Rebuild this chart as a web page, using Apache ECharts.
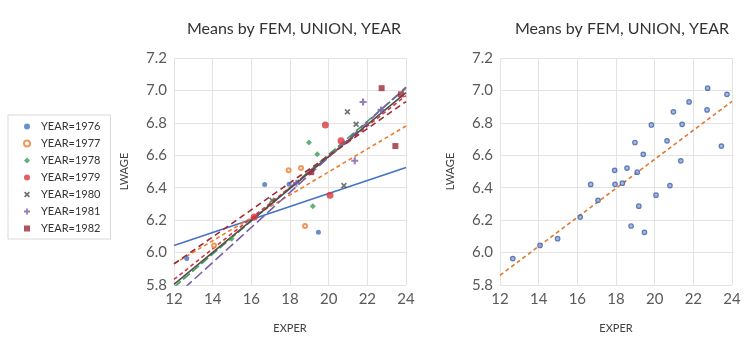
<!DOCTYPE html>
<html><head><meta charset="utf-8">
<script src="https://cdn.jsdelivr.net/npm/echarts@6/dist/echarts.min.js"></script>
<style>html,body{margin:0;padding:0;background:#fff}#c{width:750px;height:345px}</style>
</head><body><div id="c"></div><script>
const titleText = 'Means by FEM, UNION, YEAR';
const xTicks = [12, 14, 16, 18, 20, 22, 24];
const yTicks = [5.8, 6.0, 6.2, 6.4, 6.6, 6.8, 7.0, 7.2];
const years = ['YEAR=1976','YEAR=1977','YEAR=1978','YEAR=1979','YEAR=1980','YEAR=1981','YEAR=1982'];
const exper1976 = [12.66, 16.69, 19.47, 17.95];
const lwage1976 = [5.963, 6.420, 6.125, 6.421];
const exper1977 = [14.07, 17.93, 18.78, 18.57];
const lwage1977 = [6.044, 6.507, 6.164, 6.521];
const exper1978 = [14.98, 18.98, 19.18, 19.41];
const lwage1978 = [6.086, 6.679, 6.286, 6.606];
const exper1979 = [16.15, 19.83, 20.07, 20.64];
const lwage1979 = [6.219, 6.787, 6.354, 6.689];
const exper1980 = [17.07, 20.97, 20.79, 21.42];
const lwage1980 = [6.322, 6.868, 6.413, 6.791];
const exper1981 = [18.33, 21.78, 21.35, 22.71];
const lwage1981 = [6.428, 6.929, 6.566, 6.880];
const exper1982 = [19.10, 22.74, 23.45, 23.74];
const lwage1982 = [6.496, 7.014, 6.657, 6.976];

const experAll = [exper1976, exper1977, exper1978, exper1979, exper1980, exper1981, exper1982];
const lwageAll = [lwage1976, lwage1977, lwage1978, lwage1979, lwage1980, lwage1981, lwage1982];

const colors = ['#4472C4', '#ED7D31', '#3F9B57', '#D9363E', '#4D4D4D', '#7B5EA7', '#9E2A35'];
const symbols = ['circle', 'emptyCircle', 'diamond', 'circle',
  'path://M2,0 L5,3 L8,0 L10,2 L7,5 L10,8 L8,10 L5,7 L2,10 L0,8 L3,5 L0,2 Z',
  'path://M3.5,0 H6.5 V3.5 H10 V6.5 H6.5 V10 H3.5 V6.5 H0 V3.5 H3.5 Z',
  'rect'];
const symSizes = [5, 4, 6, 7, 6, 7, 6];
const dashes = ['solid', [4, 3], [9, 3], [4, 3], 'solid', [10, 4], [6, 4]];

function fit(xs, ys) {
  const n = xs.length;
  const mx = xs.reduce((a, b) => a + b, 0) / n;
  const my = ys.reduce((a, b) => a + b, 0) / n;
  let sxx = 0, sxy = 0;
  for (let i = 0; i < n; i++) { sxx += (xs[i] - mx) ** 2; sxy += (xs[i] - mx) * (ys[i] - my); }
  const b = sxy / sxx;
  const a = my - b * mx;
  return [[xTicks[0], a + b * xTicks[0]], [xTicks[xTicks.length - 1], a + b * xTicks[xTicks.length - 1]]];
}

const font = 'Lato, "Open Sans", sans-serif';
function mkX(gi) {
  return { gridIndex: gi, type: 'value', min: xTicks[0], max: xTicks[xTicks.length - 1], interval: 2,
    name: 'EXPER', nameLocation: 'middle', nameGap: 38,
    nameTextStyle: { color: '#404040', fontSize: 11, fontFamily: font },
    axisLine: { show: false }, axisTick: { show: false },
    axisLabel: { color: '#595959', fontSize: 15, fontFamily: font, margin: 7 },
    splitLine: { lineStyle: { color: '#E3E3E3' } } };
}
function mkY(gi) {
  return { gridIndex: gi, type: 'value', min: yTicks[0], max: yTicks[yTicks.length - 1], interval: 0.2,
    name: 'LWAGE', nameLocation: 'middle', nameGap: 44, nameRotate: 90,
    nameTextStyle: { color: '#404040', fontSize: 11, fontFamily: font },
    axisLine: { show: false }, axisTick: { show: false },
    axisLabel: { color: '#595959', fontSize: 15, fontFamily: font, margin: 7, formatter: v => v.toFixed(1) },
    splitLine: { lineStyle: { color: '#E3E3E3' } } };
}

const series = [];
years.forEach((y, i) => {
  series.push({ name: y, type: 'scatter', xAxisIndex: 0, yAxisIndex: 0, z: 3,
    symbol: symbols[i], symbolSize: symSizes[i],
    itemStyle: { color: colors[i], borderColor: colors[i], borderWidth: i === 1 ? 1.3 : 0 },
    data: experAll[i].map((x, k) => [x, lwageAll[i][k]]) });
});
years.forEach((y, i) => {
  series.push({ name: 'trend ' + y, type: 'line', xAxisIndex: 0, yAxisIndex: 0, z: 2,
    symbol: 'none', clip: true, silent: true,
    lineStyle: { color: colors[i], width: 1.6, type: dashes[i] },
    data: fit(experAll[i], lwageAll[i]) });
});
const allX = [].concat(...experAll);
const allY = [].concat(...lwageAll);
series.push({ name: 'all', type: 'scatter', xAxisIndex: 1, yAxisIndex: 1, z: 3,
  symbol: 'circle', symbolSize: 4.5,
  itemStyle: { color: '#8CA6D6', borderColor: '#3F62A8', borderWidth: 1.2 },
  data: allX.map((x, k) => [x, allY[k]]) });
series.push({ name: 'trend all', type: 'line', xAxisIndex: 1, yAxisIndex: 1, z: 2,
  symbol: 'none', silent: true,
  lineStyle: { color: '#E0782F', width: 1.6, type: [4, 3] },
  data: fit(allX, allY) });

const chart = echarts.init(document.getElementById('c'), null, { renderer: 'canvas' });
chart.setOption({
  animation: false,
  backgroundColor: '#fff',
  title: [
    { text: titleText, left: 289, top: 16, textAlign: 'center', textStyle: { fontSize: 16, fontWeight: 'normal', color: '#333', fontFamily: font } },
    { text: titleText, left: 617, top: 16, textAlign: 'center', textStyle: { fontSize: 16, fontWeight: 'normal', color: '#333', fontFamily: font } }
  ],
  legend: { data: years, orient: 'vertical', left: 8, top: 115, itemWidth: 6, itemHeight: 6, itemGap: 2,
    padding: [4, 10, 3, 15], borderColor: '#D9D9D9', borderWidth: 1,
    textStyle: { fontSize: 11, color: '#333', fontFamily: font, lineHeight: 15, padding: [0, 0, 0, 6] } },
  grid: [
    { left: 174, width: 232, top: 58, height: 227 },
    { left: 500, width: 232, top: 58, height: 227 }
  ],
  xAxis: [mkX(0), mkX(1)],
  yAxis: [mkY(0), mkY(1)],
  series: series
});
</script></body></html>
